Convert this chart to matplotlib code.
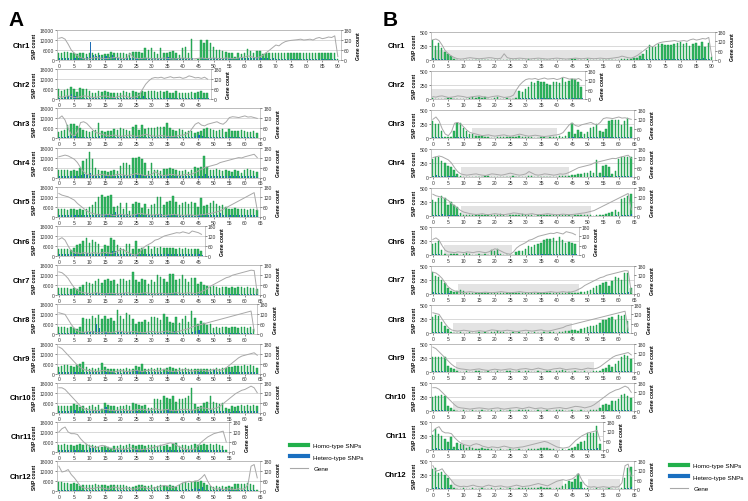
import matplotlib
matplotlib.use('Agg')

import numpy as np
import matplotlib.pyplot as plt
from matplotlib.lines import Line2D

plt.rcParams['font.family'] = ['Liberation Sans', 'DejaVu Sans']

# ---- data (A in SNPs x1000) ----
chroms = ['Chr1', 'Chr2', 'Chr3', 'Chr4', 'Chr5', 'Chr6',
          'Chr7', 'Chr8', 'Chr9', 'Chr10', 'Chr11', 'Chr12']

# gene count per bin (same bins in both panels)
gene_chr1 = [130,135,125,95,60,40,25,15,8,6, 8,12,15,12,10,8,10,12,15,14, 10,8,12,40,15,10,8,10,12,10,
             8,6,8,10,12,10,8,6,8,10, 12,10,8,6,8,10,12,10,8,10, 12,10,8,10,12,10,8,10,12,15,
             18,25,20,15,12,20,30,45,60,75, 90,85,100,110,115,118,120,122,125,120,
             122,125,120,130,135,128,132,138,135,145, 20]
gene_chr2 = [15,12,18,20,15,10,12,15,20,18, 15,10,12,15,18,20,15,12,10,15, 18,20,15,10,12,15,25,60,90,110,
             125,130,128,132,125,130,135,128,130,132, 125,130,140,135,128,130,125,132,120]
gene_chr3 = [120,135,110,60,25,15,40,95,100,90, 70,50,35,30,25,20,15,18,20,15, 12,15,18,20,15,12,15,20,25,20,
             15,12,15,18,15,12,10,12,15,18, 20,25,35,60,85,95,80,75,85,90, 95,100,90,85,100,125,130,128,125,130,
             135,128,130,125,120]
gene_chr4 = [125,130,135,130,120,110,90,60,35,20, 15,12,15,18,20,15,12,10,15,20, 18,15,12,15,20,25,20,15,12,15,
             20,35,25,15,12,15,20,18,15,12, 15,20,18,22,30,40,50,60,65,70, 75,80,90,95,100,105,110,115,120,118,
             125,130,135,140,120]
gene_chr5 = [140,130,125,120,110,100,80,65,50,35, 25,20,15,12,10,12,15,10,8,12, 15,12,10,8,12,15,20,18,15,12,
             10,12,15,10,8,10,12,15,12,10, 8,10,12,10,8,10,12,15,18,20, 25,30,35,45,55,65,75,85,95,105,
             115,125,135,145,40]
gene_chr6 = [100,110,95,60,30,20,18,15,20,18, 15,20,18,15,20,22,18,15,20,30, 40,35,25,15,8,5,20,45,60,70,
             80,95,100,110,120,125,130,135,140,138, 145,140,135,150,145,140,130]
gene_chr7 = [140,135,120,100,70,45,30,20,15,12, 10,12,15,12,10,8,10,12,10,8, 10,12,15,12,10,8,10,12,15,12,
             10,8,10,12,10,8,10,12,15,12, 10,12,15,12,10,15,20,30,40,55, 65,75,85,95,105,110,120,125,130,135,
             140,145,150,148,10]
gene_chr8 = [130,125,120,90,60,35,20,15,12,15, 18,15,12,10,12,15,12,10,15,20, 18,15,12,15,18,15,12,10,12,15,
             18,15,12,15,18,20,15,12,15,20, 25,30,35,45,50,55,60,65,70,75, 80,85,90,95,100,105,110,115,120,125,
             130,135,140,20]
gene_chr9 = [160,150,130,110,90,70,50,35,25,20, 18,15,12,15,18,20,15,12,10,15, 18,15,12,15,18,20,15,12,18,20,
             22,18,15,20,25,20,15,12,15,20, 22,25,20,15,18,20,22,18,15,20, 25,22,20,25,35,50,65,80,95,105,
             110,115,120,125,110]
gene_chr10 = [150,150,140,120,100,80,60,40,25,20, 18,15,12,15,18,20,18,15,12,15, 18,20,15,12,15,18,20,22,18,15,
              20,25,20,15,18,20,15,12,15,18, 20,22,18,15,20,25,30,28,25,20, 25,30,40,55,70,85,100,115,125,135,
              140,150,160,150,120]
gene_chr11 = [120,140,150,120,110,110,105,80,60,45, 35,30,25,35,40,35,25,20,15,20, 18,15,20,25,20,15,12,15,18,20,
              25,30,35,40,45,50,55,50,40,30, 20,15,12,15,20,40,60,75,90,100, 110,115,120,125,60]
gene_chr12 = [150,115,120,130,100,80,55,30,20,15, 18,15,20,25,18,15,12,20,25,20, 15,18,20,15,12,15,20,25,20,15,
              18,20,25,30,35,30,25,20,30,40, 50,55,60,55,60,65,80,100,60,30, 15,12,15,10,12,15,12,10,15,12,
              15,40,150,160,80]

# panel A: homo-type SNPs (x1000)
a_homo_chr1 = [4.5,4.5,4.8,5,4,4.5,3.8,4.5,4,3.5, 4,4,3.5,4,3,3.5,3.5,5,4.5,4.5, 4.5,4.5,3.5,4.5,5,5,4.8,4.5,7.5,6,
               7,5,3.5,7.5,4,4.5,5,5.5,4,3, 7.5,8,4,12.5,0.3,0.5,12,10.5,12,10, 8,6,6,5.5,5,4.5,4.5,2,4,3.5,
               4,6.5,5.5,4,5.5,5.5,3.5,4,4,4, 4,4,4.5,4.5,4.5,4,4,4,4,4, 4,4,4,4,4,4,4,4,4,4.5, 0.5]
a_homo_chr2 = [6,5,5.5,6,7.5,6,4.5,6.5,6,6, 5,4,4,5,4.5,5,4.5,4,3.5,3.5, 4,5,4.5,3.5,5,4.5,4,5,4.5,5,
               5,5,4.5,5,4.5,5,4,4,5,4, 4,3.5,4,4.5,4,4.5,5,4,3.5]
a_homo_chr3 = [4,4.5,5,8,8.5,8.5,7.5,6,5,4.5, 4,4.5,5,9.5,4.5,4,4.5,4.5,5.5,5, 6.5,5.5,5,4.5,7,8,5,8,5.5,6,
               6.5,6.5,7,7,7,9,6,5,4.5,5.5, 5,4,4.5,4.5,3.5,4,4.5,5.5,6,5.5, 5,4.5,5,5.5,4,5.5,4.5,4.5,4.5,5,
               4.5,4,4,4.5,3]
a_homo_chr4 = [4.5,4.5,4.5,4.5,4,4.5,4,6,10,11, 15.5,11,6,4.5,4,4,3.5,4,4.5,4, 7,9,8.5,7.5,12,12,12.5,11,9,4,
               9,4.5,4.5,4,5,5,5.5,5,4.5,4, 4,4.5,3.5,4.5,6.5,6,6.5,13,6.5,4.5, 4.5,5,4.5,4,4.5,4,3.5,4.5,4,3,
               4.5,5,4.5,4,3.5]
a_homo_chr5 = [4.5,4.5,4.5,4,4.5,4.5,4,4.5,4,4.5, 6,7,9,12,13,12,12.5,13,6,6.5, 8,4.5,8.5,3.5,7.5,9,8.5,5,7.5,4.5,
               7,7.5,12,12,7,9,9.5,12.5,9,7, 8,9,7.5,9,8,6,11,6.5,7,8.5, 9.5,7.5,6.5,7,6,4.5,4.5,5,4.5,4.5,
               4.5,4,4.5,4.5,4]
a_homo_chr6 = [4.5,4.5,4.5,4.5,3.5,5,6.5,7,9,11, 8,9.5,8.5,7,4,6.5,6,11,9.5,6.5, 5,4,7.5,7,4,9,4,5,4.5,6,
               4.5,5.5,5,5.5,5,5,5,5,4.5,5, 4.5,5,4.5,4.5,4,4.5,3]
a_homo_chr7 = [4.5,4.5,4.5,4.5,4,4.5,4,5,6,8, 7.5,7,8.5,10,7.5,9,10,8.5,9,7, 10,10,8.5,9,14,9,8,10,9,7,
               9,8,12,11,10,8,13,12.5,9,10, 12,9.5,8,10.5,10.5,7,8,6,5.5,5, 5.5,5,4.5,5,5,4.5,5,4.5,5,5,
               4.5,5,4.5,4.5,4]
a_homo_chr8 = [4.5,4.5,4.5,4,4.5,4,3,4.5,10,9, 9.5,11,10,11.5,9.5,11,9,10,8,14.5, 11,9.5,13,11.5,9.5,6.5,7.5,7.5,8.5,7.5,
               10.5,10.5,10,8.5,12.5,10.5,7.5,7,10.5,7, 9,11,7.5,14,10,6,8,7,5.5,6.5, 4,4.5,4,4.5,4.5,4,4.5,4.5,4,4.5,
               4.5,4,4.5,3.5]
a_homo_chr9 = [4,4.5,5,5,4.5,4,5,5.5,7,4, 3,3.5,3,3.5,6.5,4,3,3,2.5,3, 2.5,3,3.5,3,3,4.5,4,5.5,3,3,
               3.5,3,3.5,3.5,3,3.5,4,3.5,3,3.5, 3,3.5,3,3,2.5,3,2.5,2.5,3,2.5, 3,3.5,3,3.5,3.5,4,4,4.5,4.5,4.5,
               5,4.5,5,4.5,3.5]
a_homo_chr10 = [4,4,4,4,4,5,4.5,3.5,4,3, 4,4.5,3.5,4.5,2.5,6,4.5,4,4,3.5, 4,4,4.5,4,6,5,4.5,4,4.5,3,
                3,8,8,7.5,10,9,8.5,10,6.5,8, 8,9,10,15,5,3.5,4,6,6.5,10, 6.5,6,5,6,3,2.5,4,3.5,4,4.5,
                4,4.5,4,4.5,4]
a_homo_chr11 = [4,4.5,5,4.5,4,3.5,4.5,5,4.5,5, 4.5,4,3.5,3,3,3.5,3,2.5,3.5,3.5, 4,3.5,4,5,4,3.5,4,4.5,3.5,4,
                4.5,4,3.5,4,3.5,4,3,5,5.5,3.5, 4,4.5,3.5,4,5,4.5,4.5,5,4.5,5, 4.5,5,4.5,3.5,1]
a_homo_chr12 = [5.5,5.5,5,5,4.5,5,4.5,3,3.5,3.5, 3.5,4,4.5,3.5,4,3.5,3,3.5,4,4, 4,3.5,3,2.5,2.5,3,3.5,4,3,3,
                3.5,2.5,3,3.5,3,3,3.5,3,2.5,3.5, 5,5.5,5,5.5,6,5.5,6,5,3.5,3, 2.5,3,2.5,3,2.5,3,2.5,4.5,4.5,4.5,
                4.5,5,4.5,4,1]

# panel A: hetero-type SNPs (x1000)
a_het_chr1 = [1,1.5,1,1,0.5,1,1,1.5,1,2, 11,3,2.5,3,2,2.5,2,3,2,1.5, 1.5,1,1,1.5,1,1,1,1,1.5,1,
              1,1.5,1,1,1.5,2,1.5,1,1,1, 1,1,1,1,0,0,1,1,1,1, 1,1,1,1,1,0.5,1,0.5,1,1,
              1,1.5,1.5,1,2,1.5,1,1,0.5,1, 0.5,0.5,0.5,0.5,0.5,0.5,0.5,0.5,0.5,0.5,
              0.5,0.5,0.5,0.5,0.5,0.5,0.5,0.5,0.5,0.5, 0.2]
a_het_chr2 = [1,1,1.5,2,3,2,1,1,1,1, 1,1,0.5,1,1,1,1,1,0.5,1, 1,1,1,1,1,1,1,2,1,1,
              1,1,1,1,1,1,1,1,1,1, 1,1,1,1,1,1,1,1,0.5]
a_het_chr3 = [1,1,1,1.5,1.5,1.5,1,1,1,1, 1,1,1,1.5,1,1,1,1,1,1, 1,1,1,1,1,1,1,1,1,1,
              1,1,1,1,1,1.5,1,1,1,1, 1,1,1,1,1.5,2,1.5,1,1,1, 1,1,1,1,1,1,1,1,1,1, 1,1,1,1,0.5]
a_het_chr4 = [1,1,1,1,1,1,1,1.5,2,2, 3,1.5,1,1,1,1,1,1,1,1, 1,1.5,1.5,1,1.5,1.5,1.5,1.5,1,1,
              1,1,1,1,1,1,1,1,1,1, 1,1,1,1,1,1,1,2,1,1, 1,1,1,1,1,1,1,1,1,1, 1,1,1,1,0.5]
a_het_chr5 = [1,1,1,1,1,1,1,1,1,1, 1,1,1.5,1.5,1.5,1.5,1.5,1.5,3,1, 1,1,1.5,1,1,1.5,1,1,1,1,
              1,1,1.5,1.5,1,1,1,1.5,1,1, 1,1,1,1,1,1,1.5,1,1,1, 1,1,2,1,1,1,1,1,1,1, 1,1,1,1,0.5]
a_het_chr6 = [1,1,1,1.5,1,1,1,1.5,1.5,2, 1,1.5,1.5,1,1,1,1.5,3,3,1, 1,1,1,1,1,1,1,1,1,1,
              1,1,1,1,1,1,1,1,1,1, 1,1,1,1,1,1,0.5]
a_het_chr7 = [1,1,1,1,1,1,1,1,1,1.5, 1,1,1.5,1.5,1,1.5,1.5,1,1,1, 1.5,1.5,1,1,1.5,1,1,1.5,1,1,
              1,1,1.5,1.5,1,1,1.5,1.5,1,1, 1,1,1,1,1,1,1,1,1,1, 1,1,1,1,1,1,1,1,1,1, 1,1,1,1,0.5]
a_het_chr8 = [1,1,1,1,1,1,0.5,1,1.5,1.5, 1.5,2,6,4,1.5,1.5,1,1.5,1,1.5, 1.5,1,1.5,1.5,1,1,1,1,1,1,
              1,1,1,1,1.5,1,1,2,1,1, 1,1,1,1.5,2,2.5,1,1,1,1, 1,1,1,1,1,1,1,1,1,1, 1,1,1,0.5]
a_het_chr9 = [1,1,1,1,1,1,1,1,1,1, 1,1,1,1,1,1,1,1,0.5,1, 0.5,1,1,1,1,2,1.5,1,1,1,
              1,1,1,1,1,1,1,1,1,1, 1,1,1,1,1,1,1,1,1,1, 2,1,1,1,1,1,1,1,1,1, 1,1,1,1,0.5]
a_het_chr10 = [1,1,1,1,1,1.5,1,1,1,1, 1,1,1,1,0.5,3.5,1,1,1,1, 1,1,1,1,1,1,1,1,1,1,
               1,1,1,1,1,2,1.5,1,1,1, 1,1,1,1.5,1,1,1,1,1,1.5, 1,1,1,1,1,0.5,1,1,1,1, 1,1,1,1,1]
a_het_chr11 = [1,1,1,1,1,1,1,1,1,1.5, 2.5,2.5,1,1,1,1,1,0.5,1,1, 1,1,1,1,1,1,1,1,1,1,
               1,1,1,1,1,1,1,1,1,1, 1,1,1.5,1,1,1,1,1,1,1, 1,1,1,1,0.3]
a_het_chr12 = [1,1,1,1,1,1,1,0.5,1,1, 1,1,1,1,1,1,1,1,1,1, 1,1,1,1,1,1,1,1,1,1,
               1,1,1,1,1,1,1,1,1,1, 1,1.5,1,1.5,2,1.5,2.5,1,1,1, 1,1,1.5,1,1,1,1,1,1,1, 1,1,1,1,0.3]

# panel B: homo-type SNPs
b_homo_chr1 = [350,250,300,210,150,110,70,20,5,3, 5,2,3,5,2,0,3,5,2,3, 0,3,5,2,3,0,2,3,5,2,
               3,10,3,2,5,3,2,5,3,2, 3,5,2,3,8,15,10,5,3,2, 10,5,3,2,5,3,2,5,8,5,
               3,10,15,20,25,30,40,80,110,180, 270,230,230,280,290,270,260,260,290,300,
               320,280,300,250,290,300,250,320,230,300, 60]
b_homo_chr2 = [10,5,8,3,5,10,25,5,3,5, 8,5,10,30,20,40,10,35,5,8, 15,40,5,3,10,5,8,20,150,130,
               180,220,300,290,320,310,300,260,250,300, 310,290,380,300,320,350,360,300,220]
b_homo_chr3 = [300,250,250,120,20,10,15,120,270,270, 180,120,70,80,30,40,30,20,10,5, 8,15,10,20,15,10,20,15,30,25,
               20,15,10,8,5,10,12,8,10,15, 20,30,10,30,100,270,70,150,100,80, 100,180,200,250,120,100,160,300,320,330,
               330,230,310,350,200]
b_homo_chr4 = [320,350,350,280,250,200,170,120,50,10, 5,3,5,8,5,3,5,10,15,8, 5,3,5,8,5,3,10,5,3,5,
               8,15,10,5,3,5,8,5,3,5, 8,10,15,20,25,30,40,55,60,70, 80,110,70,300,80,200,220,180,60,100,
               320,350,350,350,360]
b_homo_chr5 = [290,250,330,360,320,200,250,200,160,60, 15,10,20,15,10,20,15,10,25,20, 10,15,30,10,5,10,15,20,10,30,
               25,15,10,5,10,15,10,20,15,10, 25,20,10,15,10,5,10,15,10,20, 15,10,5,15,20,25,30,50,80,100,
               80,300,330,350,400]
b_homo_chr6 = [200,220,250,90,10,5,10,15,10,5, 10,30,10,5,8,10,5,10,8,90, 70,110,10,5,8,3,5,60,70,80,
               100,160,140,180,200,210,270,280,280,300, 250,320,260,220,230,220,200]
b_homo_chr7 = [400,320,300,250,200,110,60,30,60,80, 50,20,15,10,20,15,25,10,15,20, 10,15,10,20,15,10,25,20,15,10,
               20,15,25,20,15,10,20,15,25,20, 10,15,20,10,30,15,20,25,30,40, 50,80,110,140,160,200,220,150,230,300,
               280,250,370,380,100]
b_homo_chr8 = [280,330,300,200,130,80,10,5,8,10, 5,8,10,5,8,10,5,10,8,10, 15,30,25,10,8,5,10,8,10,5,
               8,10,5,10,8,5,10,8,15,10, 8,20,25,30,40,50,60,40,70,90, 110,120,130,150,170,240,230,270,280,240,
               320,300,330,220]
b_homo_chr9 = [260,260,260,270,260,100,80,50,10,5, 8,10,5,8,10,12,8,5,10,8, 5,10,8,5,10,12,8,5,10,8,
               15,10,5,8,10,5,8,10,12,8, 10,15,30,10,8,5,10,8,5,10, 8,5,10,15,20,50,80,130,90,150,
               200,260,300,280,240]
b_homo_chr10 = [250,270,270,280,260,90,50,20,5,8, 10,5,8,10,5,8,10,5,8,10, 5,8,10,5,8,10,5,8,10,12,
                15,10,5,8,10,5,8,10,5,8, 15,20,10,5,8,10,5,8,10,5, 8,15,10,20,60,100,130,100,180,170,
                220,280,300,260,240]
b_homo_chr11 = [260,380,280,250,200,140,230,60,130,110, 90,30,50,30,20,25,30,10,15,10, 5,8,10,5,8,10,5,8,10,5,
                8,10,15,20,25,30,40,35,20,10, 5,8,10,5,15,30,50,100,150,160, 300,310,300,420,100]
b_homo_chr12 = [350,380,290,310,250,200,80,10,5,8, 10,5,8,10,5,8,10,5,8,10, 5,8,10,5,8,10,5,8,15,20,
                25,20,15,20,25,30,20,15,10,8, 15,20,60,90,150,120,170,270,120,20, 10,5,8,10,5,8,5,10,5,8,
                5,10,200,370,400]

# panel B: hetero-type SNPs
b_het_chr1 = [30,25,25,15,10,5,2,0,0,0, 0,0,0,0,0,0,0,0,0,0, 0,0,0,0,0,0,0,0,0,0,
              0,2,0,0,0,0,0,0,0,0, 0,0,0,0,0,3,2,0,0,0, 2,0,0,0,0,0,0,0,0,0,
              0,0,2,3,5,5,5,10,10,15, 20,15,15,20,20,15,20,15,15,20, 20,15,20,15,20,15,15,30,20,25, 5]
b_het_chr2 = [2,0,0,0,0,0,3,0,0,0, 0,0,0,3,2,3,0,3,0,0, 0,3,0,0,0,0,0,2,15,10,
              15,15,20,20,20,15,20,15,15,20, 20,15,25,20,15,20,25,20,15]
b_het_chr3 = [25,20,20,10,2,0,0,10,20,20, 15,10,5,5,3,3,2,2,0,0, 0,0,0,0,0,0,0,0,3,2,
              0,0,0,0,0,0,0,0,0,0, 0,2,0,2,10,20,5,10,10,5, 10,15,15,20,10,10,15,20,25,25, 25,20,25,25,15]
b_het_chr4 = [25,30,25,20,20,15,15,10,5,0, 0,0,0,0,0,0,0,0,0,0, 0,0,0,0,0,0,0,0,0,0,
              0,0,0,0,0,0,0,0,0,0, 0,0,0,0,2,3,3,5,5,5, 5,10,5,20,5,15,15,15,5,10, 25,25,25,25,25]
b_het_chr5 = [25,20,25,30,25,15,20,15,10,5, 0,0,2,0,0,0,0,0,2,0, 0,0,2,0,0,0,0,0,0,2,
              0,0,0,0,0,0,0,0,0,0, 2,0,0,0,0,0,0,0,0,0, 0,0,0,0,2,2,3,5,5,10, 5,20,25,25,30]
b_het_chr6 = [15,15,20,5,0,0,0,0,0,0, 0,2,0,0,0,0,0,0,0,5, 5,10,0,0,0,0,0,5,5,5,
              5,10,10,15,15,15,20,20,20,20, 20,25,20,15,15,15,15]
b_het_chr7 = [30,25,25,20,15,10,5,2,5,5, 3,0,0,0,0,0,0,0,0,0, 0,0,0,0,0,0,0,0,0,0,
              0,0,0,0,0,0,0,0,0,0, 0,0,0,0,0,0,0,0,2,2, 3,5,10,10,10,15,15,10,15,20, 20,20,25,30,5]
b_het_chr8 = [20,25,20,15,10,5,0,0,0,0, 0,0,0,0,0,0,0,0,0,0, 0,2,2,0,0,0,0,0,0,0,
              0,0,0,0,0,0,0,0,0,0, 0,0,2,2,3,3,5,3,5,5, 10,10,10,10,15,15,15,20,20,15, 25,20,25,15]
b_het_chr9 = [20,20,20,20,20,5,5,3,0,0, 0,0,0,0,0,0,0,0,0,0, 0,0,0,0,0,0,0,0,0,0,
              0,0,0,0,0,0,0,0,0,0, 0,0,2,0,0,0,0,0,0,0, 0,0,0,0,2,5,5,10,5,10, 15,20,20,20,15]
b_het_chr10 = [20,20,25,20,20,5,3,0,0,0, 0,0,0,0,0,0,0,0,0,0, 0,0,0,0,0,0,0,0,0,0,
               0,0,0,0,0,0,0,0,0,0, 0,2,0,0,0,0,0,0,0,0, 0,0,0,0,5,5,10,5,10,10, 15,20,20,20,15]
b_het_chr11 = [20,30,20,20,15,10,15,5,10,10, 5,2,3,2,0,0,2,0,0,0, 0,0,0,0,0,0,0,0,0,0,
               0,0,0,0,2,2,3,2,0,0, 0,0,0,0,0,2,5,5,10,10, 20,20,20,30,5]
b_het_chr12 = [25,30,20,25,20,15,5,0,0,0, 0,0,0,0,0,0,0,0,0,0, 0,0,0,0,0,0,0,0,0,0,
               0,0,0,0,2,2,0,0,0,0, 0,0,5,5,10,10,10,20,10,0, 0,0,0,0,0,0,0,0,0,0, 0,0,15,25,30]

# grey shaded stretches in panel B (bin ranges)
b_bands = [[(0.5, 67.5)], [(-0.5, 27)], [(12.5, 40)], [(9, 44)], [(9, 51)], [(3.5, 25.5)],
           [(8, 47)], [(6.5, 45)], [(7.5, 52)], [(6.5, 54)], [(9, 41)], [(6, 42), (50, 60.5)]]

GENE = [gene_chr1, gene_chr2, gene_chr3, gene_chr4, gene_chr5, gene_chr6,
        gene_chr7, gene_chr8, gene_chr9, gene_chr10, gene_chr11, gene_chr12]
A_HOMO = [a_homo_chr1, a_homo_chr2, a_homo_chr3, a_homo_chr4, a_homo_chr5, a_homo_chr6,
          a_homo_chr7, a_homo_chr8, a_homo_chr9, a_homo_chr10, a_homo_chr11, a_homo_chr12]
A_HET = [a_het_chr1, a_het_chr2, a_het_chr3, a_het_chr4, a_het_chr5, a_het_chr6,
         a_het_chr7, a_het_chr8, a_het_chr9, a_het_chr10, a_het_chr11, a_het_chr12]
B_HOMO = [b_homo_chr1, b_homo_chr2, b_homo_chr3, b_homo_chr4, b_homo_chr5, b_homo_chr6,
          b_homo_chr7, b_homo_chr8, b_homo_chr9, b_homo_chr10, b_homo_chr11, b_homo_chr12]
B_HET = [b_het_chr1, b_het_chr2, b_het_chr3, b_het_chr4, b_het_chr5, b_het_chr6,
         b_het_chr7, b_het_chr8, b_het_chr9, b_het_chr10, b_het_chr11, b_het_chr12]

# ---- drawing ----
W, H = 748, 502
fig = plt.figure(figsize=(W / 100, H / 100), dpi=100)

GREEN = '#34b863'
GREEN_EDGE = '#13913f'
BLUE = '#1f6db5'
GRAY = '#a8a8a8'
PX_BIN = 3.1


def px_axes(left, top, w, h):
    return fig.add_axes([left / W, 1 - (top + h) / H, w / W, h / H])


def draw_chrom(left, top, height, name, label_x, homo, het, gene, ymax, yticks, ylab_x, bands=()):
    n = len(homo)
    width = (n + 0.6) * PX_BIN
    ax = px_axes(left, top, width, height)
    for s, e in bands:
        ax.axvspan(s, e, ymin=0, ymax=0.35, color='#e3e3e3', lw=0, zorder=0)
    ax.bar(np.arange(n) - 0.15, homo, width=0.5, color=GREEN, edgecolor=GREEN_EDGE,
           linewidth=0.3, zorder=2)
    ax.bar(np.arange(len(het)) + 0.2, het, width=0.35, color=BLUE, linewidth=0, zorder=3)
    ax.set_xlim(-0.6, n)
    ax.set_ylim(0, ymax)
    ax.set_yticks(yticks)
    ax.set_xticks(range(0, n + 1, 5))
    ax.yaxis.grid(True, color='#bdbdbd', lw=0.4)
    ax.set_axisbelow(True)
    for sp in ax.spines.values():
        sp.set_color('#b0b0b0')
        sp.set_linewidth(0.5)
    ax.tick_params(labelsize=3.6, length=1.2, width=0.4, pad=0.8, colors='#333333')

    ax2 = ax.twinx()
    ax2.plot(np.arange(len(gene)), gene, color=GRAY, lw=0.7)
    ax2.set_ylim(0, 180)
    ax2.set_yticks([0, 60, 120, 180])
    ax2.tick_params(labelsize=3.6, length=1.2, width=0.4, pad=0.8, colors='#333333')
    for sp in ax2.spines.values():
        sp.set_visible(False)

    yc = 1 - (top + height / 2) / H
    fig.text(label_x / W, yc, name, ha='center', va='center', fontsize=5.5, fontweight='bold')
    fig.text(ylab_x / W, yc, 'SNP count', rotation=90, ha='center', va='center',
             fontsize=3.6, fontweight='bold')
    fig.text((left + width + 18) / W, yc, 'Gene count', rotation=90, ha='center', va='center',
             fontsize=3.6, fontweight='bold')


for i, name in enumerate(chroms):
    draw_chrom(57, 31 + i * 39.2, 30, name, 21, A_HOMO[i], A_HET[i], GENE[i],
               18, [0, 6, 12, 18], 35)
    draw_chrom(431, 33 + i * 39.0, 28, name, 396, B_HOMO[i], B_HET[i], GENE[i],
               500, [0, 250, 500], 414, b_bands[i])

# panel A is in thousands on the chart data; show full numbers on the axis
for ax in fig.axes:
    if ax.get_ylim()[1] == 18:
        ax.set_yticklabels(['0', '6000', '12000', '18000'])

fig.text(8 / W, 1 - 20 / H, 'A', fontsize=15, fontweight='bold', va='center')
fig.text(383 / W, 1 - 20 / H, 'B', fontsize=15, fontweight='bold', va='center')

handles = [Line2D([], [], color='#22b04b', lw=3), Line2D([], [], color='#1a6fc0', lw=3),
           Line2D([], [], color=GRAY, lw=0.8)]
labels = ['Homo-type SNPs', 'Hetero-type SNPs', 'Gene']
fig.legend(handles, labels, loc='upper left', bbox_to_anchor=(284 / W, 1 - 438 / H),
           frameon=False, fontsize=4.5, handlelength=3, labelspacing=1.0)
fig.legend(handles, labels, loc='upper left', bbox_to_anchor=(664 / W, 1 - 458 / H),
           frameon=False, fontsize=4.5, handlelength=3, labelspacing=1.0)

fig.savefig('out.png', dpi=100)
